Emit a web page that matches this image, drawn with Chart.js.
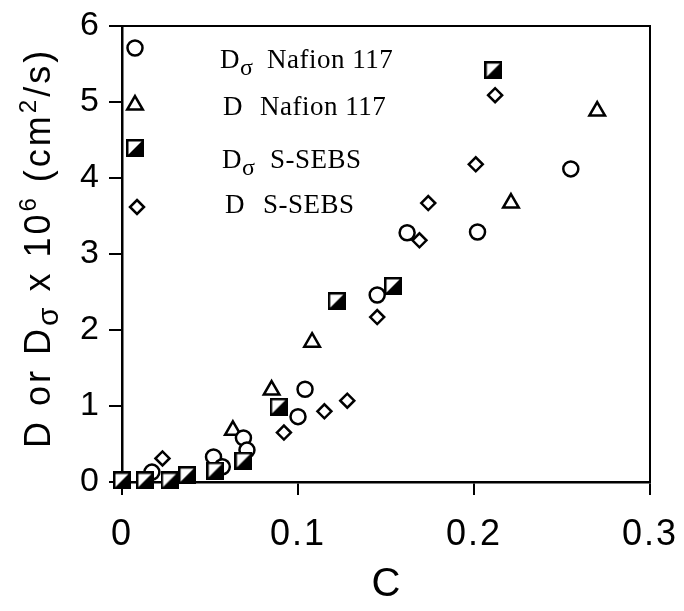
<!DOCTYPE html>
<html>
<head>
<meta charset="utf-8">
<script src="https://cdn.jsdelivr.net/npm/chart.js@4/dist/chart.umd.min.js"></script>
<style>
  html, body { margin: 0; padding: 0; background: #fff; }
</style>
</head>
<body>
<canvas id="chart" width="684" height="611"></canvas>
<script>
// values: C on x, D or Dsigma x 10^6 (cm2/s) on y
const cNafionDs = [0.017, 0.052, 0.057, 0.069, 0.071, 0.100, 0.104, 0.145, 0.162, 0.202, 0.255];
const dNafionDs = [0.13, 0.33, 0.20, 0.58, 0.42, 0.86, 1.22, 2.46, 3.28, 3.29, 4.12];

const cNafionD = [0.063, 0.085, 0.108, 0.221, 0.270];
const dNafionD = [0.68, 1.21, 1.84, 3.67, 4.88];

const cSebsDs = [0.000, 0.013, 0.027, 0.037, 0.053, 0.069, 0.089, 0.122, 0.154, 0.211];
const dSebsDs = [0.02, 0.02, 0.02, 0.09, 0.15, 0.28, 0.99, 2.38, 2.58, 5.42];

const cSebsD = [0.023, 0.092, 0.115, 0.128, 0.145, 0.169, 0.174, 0.201, 0.212];
const dSebsD = [0.31, 0.65, 0.93, 1.07, 2.17, 3.18, 3.67, 4.18, 5.09];

const xTicks = [0, 0.1, 0.2, 0.3];
const yTicks = [0, 1, 2, 3, 4, 5, 6];

const sans = "'Liberation Sans', Arial, sans-serif";
const serif = "'Liberation Serif', 'Times New Roman', serif";

function pts(xs, ys) {
  return xs.map((x, i) => ({ x: x, y: ys[i] }));
}

// square, white upper-left half and black lower-right half
function halfSquare(size) {
  const c = document.createElement('canvas');
  c.width = size; c.height = size;
  const g = c.getContext('2d');
  g.fillStyle = '#fff';
  g.fillRect(0, 0, size, size);
  g.fillStyle = '#000';
  g.beginPath();
  g.moveTo(size, 0); g.lineTo(size, size); g.lineTo(0, size);
  g.closePath(); g.fill();
  g.lineWidth = 2.5;
  g.strokeStyle = '#000';
  g.strokeRect(1.25, 1.25, size - 2.5, size - 2.5);
  return c;
}
const halfSq = halfSquare(18);

// draws a line of text made of runs (normal, sub, sup), left to right
function runsWidth(ctx, runs) {
  let w = 0;
  runs.forEach(r => { ctx.font = r.font; w += ctx.measureText(r.t).width; });
  return w;
}
function drawRuns(ctx, runs, x, y) {
  runs.forEach(r => {
    ctx.font = r.font;
    ctx.fillText(r.t, x, y + (r.dy || 0));
    x += ctx.measureText(r.t).width;
  });
}

const extras = {
  id: 'extras',
  beforeDraw(chart) {
    chart.ctx.letterSpacing = '2px';
  },
  beforeDatasetsDraw(chart) {
    const ctx = chart.ctx;
    const a = chart.chartArea;
    ctx.save();
    ctx.strokeStyle = '#000';
    ctx.lineWidth = 2;
    ctx.beginPath();
    ctx.moveTo(a.left, a.top);
    ctx.lineTo(a.right, a.top);
    ctx.lineTo(a.right, a.bottom);
    ctx.stroke();
    ctx.restore();
  },
  afterDraw(chart) {
    const ctx = chart.ctx;
    ctx.save();
    ctx.fillStyle = '#000';
    ctx.textBaseline = 'alphabetic';

    // x title
    ctx.letterSpacing = '0px';
    ctx.font = '40px ' + sans;
    ctx.textAlign = 'center';
    ctx.fillText('C', 386, 596);

    // y title, rotated
    ctx.textAlign = 'left';
    ctx.letterSpacing = '3px';
    const big = '36px ' + sans, small = '24px ' + sans;
    const yRuns = [
      { t: 'D or D', font: big },
      { t: 'σ', font: '30px ' + sans, dy: 8 },
      { t: ' x 10', font: big },
      { t: '6', font: small, dy: -14 },
      { t: ' (cm', font: big },
      { t: '2', font: small, dy: -14 },
      { t: '/s)', font: big }
    ];
    const w = runsWidth(ctx, yRuns);
    ctx.save();
    ctx.translate(50, 248);
    ctx.rotate(-Math.PI / 2);
    drawRuns(ctx, yRuns, -w / 2, 0);
    ctx.restore();

    // legend inside the plot
    ctx.letterSpacing = '0.5px';
    const f = '27px ' + serif, fs = '24px ' + serif;
    drawRuns(ctx, [{ t: 'D', font: f }, { t: 'σ', font: fs, dy: 7 }], 220, 68);
    drawRuns(ctx, [{ t: 'Nafion 117', font: f }], 267, 68);
    drawRuns(ctx, [{ t: 'D', font: f }], 223, 115);
    drawRuns(ctx, [{ t: 'Nafion 117', font: f }], 260, 115);
    drawRuns(ctx, [{ t: 'D', font: f }, { t: 'σ', font: fs, dy: 7 }], 222, 168);
    drawRuns(ctx, [{ t: 'S-SEBS', font: f }], 270, 168);
    drawRuns(ctx, [{ t: 'D', font: f }], 225, 213);
    drawRuns(ctx, [{ t: 'S-SEBS', font: f }], 263, 213);

    // legend markers
    ctx.strokeStyle = '#000';
    ctx.lineWidth = 2.5;
    ctx.fillStyle = '#fff';
    ctx.beginPath();
    ctx.arc(135, 48, 7.5, 0, Math.PI * 2);
    ctx.fill(); ctx.stroke();

    const r = 9;
    ctx.beginPath();
    ctx.moveTo(135, 105 - r);
    ctx.lineTo(135 + r * Math.sin(Math.PI / 3), 105 + r / 2);
    ctx.lineTo(135 - r * Math.sin(Math.PI / 3), 105 + r / 2);
    ctx.closePath();
    ctx.fill(); ctx.stroke();

    ctx.drawImage(halfSq, 135 - 9, 148 - 9);

    ctx.beginPath();
    ctx.moveTo(137, 207 - 7);
    ctx.lineTo(137 + 7, 207);
    ctx.lineTo(137, 207 + 7);
    ctx.lineTo(137 - 7, 207);
    ctx.closePath();
    ctx.fill(); ctx.stroke();

    ctx.restore();
    ctx.letterSpacing = '0px';
  }
};

const common = {
  borderColor: '#000',
  backgroundColor: '#fff',
  borderWidth: 2.5,
  showLine: false,
  clip: false
};

new Chart(document.getElementById('chart'), {
  type: 'scatter',
  data: {
    datasets: [
      Object.assign({ label: 'Dσ S-SEBS', data: pts(cSebsDs, dSebsDs), pointStyle: halfSq, pointRadius: 9, order: 0 }, common),
      Object.assign({ label: 'D S-SEBS', data: pts(cSebsD, dSebsD), pointStyle: 'rectRot', pointRadius: 7, order: 1 }, common),
      Object.assign({ label: 'Dσ Nafion 117', data: pts(cNafionDs, dNafionDs), pointStyle: 'circle', pointRadius: 7.5, order: 2 }, common),
      Object.assign({ label: 'D Nafion 117', data: pts(cNafionD, dNafionD), pointStyle: 'triangle', pointRadius: 9, order: 3 }, common)
    ]
  },
  options: {
    responsive: false,
    animation: false,
    events: [],
    layout: { padding: { top: 0, right: 34, left: 0, bottom: 0 } },
    plugins: { legend: { display: false }, tooltip: { enabled: false } },
    scales: {
      x: {
        type: 'linear',
        min: 0,
        max: 0.3,
        afterBuildTicks: s => { s.ticks = xTicks.map(v => ({ value: v })); },
        afterFit: s => { s.height = 129; s.paddingLeft = 0; s.paddingRight = 0; },
        ticks: {
          color: '#000',
          font: { family: sans, size: 36 },
          padding: 18,
          maxRotation: 0,
          autoSkip: false,
          callback: v => (v === 0 ? '0' : v.toFixed(1))
        },
        grid: { drawOnChartArea: false, drawTicks: true, tickLength: 13, color: '#000', lineWidth: 2 },
        border: { display: true, color: '#000', width: 2.5 }
      },
      y: {
        type: 'linear',
        min: 0,
        max: 6,
        afterBuildTicks: s => { s.ticks = yTicks.map(v => ({ value: v })); },
        afterFit: s => { s.width = 122; s.paddingTop = 26; s.paddingBottom = 0; },
        ticks: {
          color: '#000',
          font: { family: sans, size: 34 },
          padding: 8,
          autoSkip: false,
          callback: v => String(v)
        },
        grid: { drawOnChartArea: false, drawTicks: true, tickLength: 13, color: '#000', lineWidth: 2 },
        border: { display: true, color: '#000', width: 2.5 }
      }
    }
  },
  plugins: [extras]
});
</script>
</body>
</html>
